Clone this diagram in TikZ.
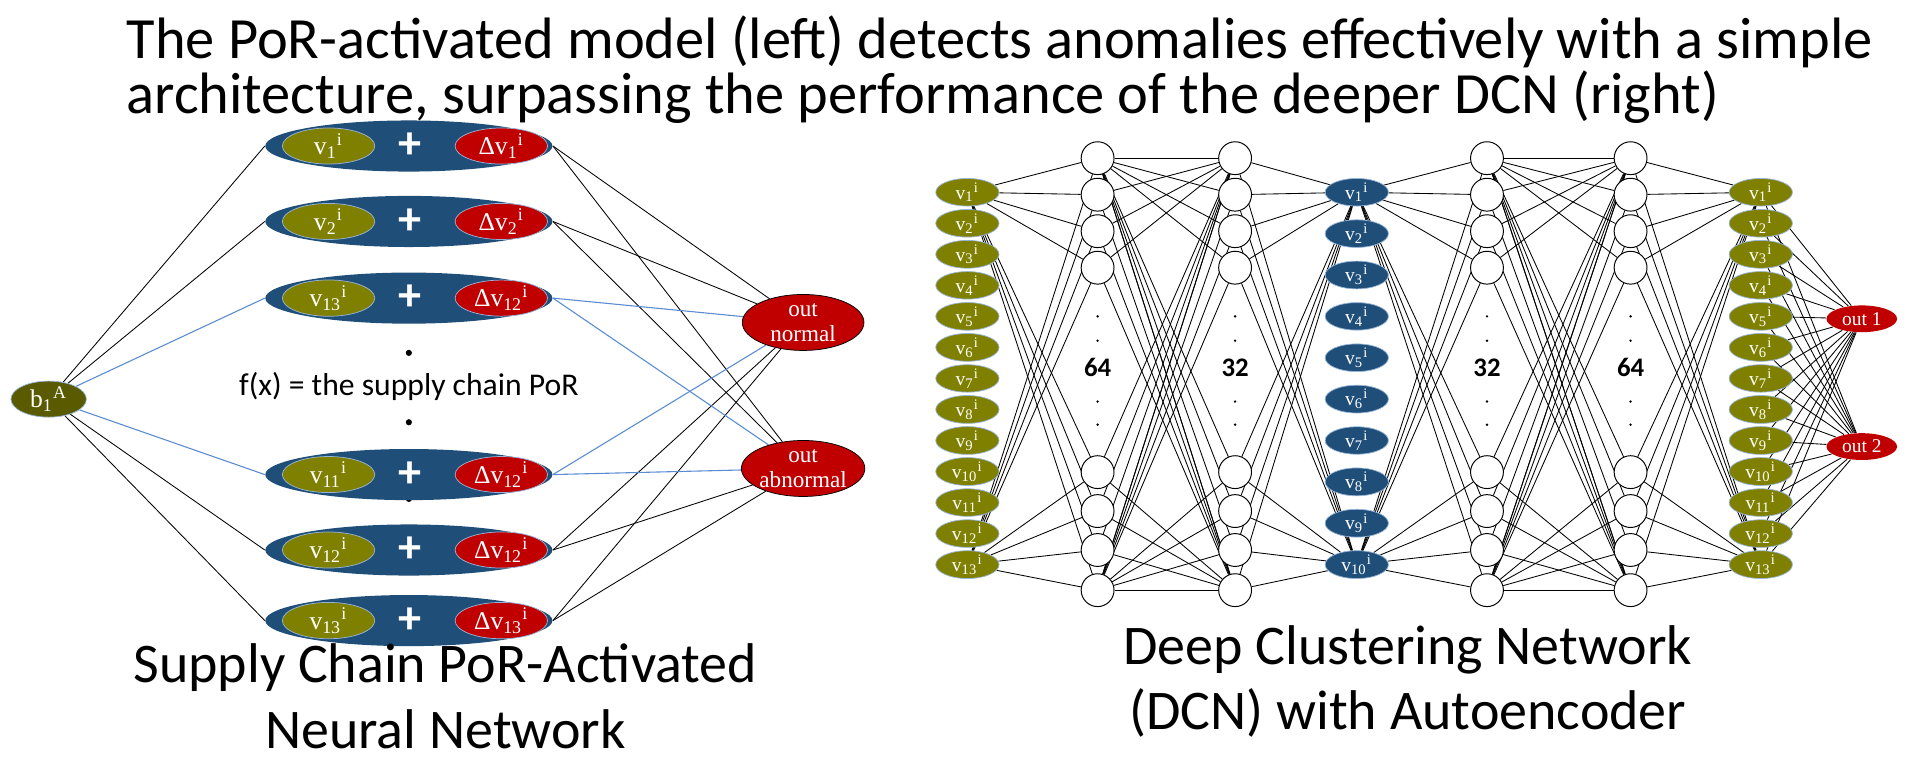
\documentclass[tikz,border=0pt]{standalone}
\usepackage{fontspec}
\setmainfont{Carlito}
\newfontfamily\tms{Liberation Serif}
\usetikzlibrary{shapes.geometric,backgrounds}
\definecolor{rowblue}{RGB}{31,78,121}
\definecolor{olv}{RGB}{128,128,0}
\definecolor{dolv}{RGB}{90,90,0}
\definecolor{dred}{RGB}{192,0,0}
\definecolor{edgeblue}{RGB}{91,140,210}
\definecolor{rimblue}{RGB}{150,180,215}

\begin{document}
\begin{tikzpicture}[x=0.5pt,y=-0.5pt,
    rowell/.style={ellipse,fill=rowblue,minimum width=118pt,minimum height=21pt,inner sep=0pt},
    vin/.style={ellipse,fill=olv,draw=rimblue,line width=0.3pt,minimum width=38pt,minimum height=11.5pt,inner sep=0pt,text=white,font=\tms\fontsize{10.5}{10.5}\selectfont},
    dvin/.style={vin,fill=dred},
    outell/.style={ellipse,fill=dred,draw=black,line width=0.3pt,minimum width=50pt,minimum height=23pt,inner sep=0pt,text=white,align=center,font=\tms\fontsize{9.5}{10}\selectfont},
    sml/.style={ellipse,fill=olv,draw=rimblue,line width=0.3pt,minimum width=26pt,minimum height=10pt,inner sep=0pt,text=white,font=\tms\fontsize{8}{8}\selectfont},
    smb/.style={sml,fill=rowblue},
    hid/.style={circle,draw=black,line width=0.4pt,fill=white,minimum size=13.5pt,inner sep=0pt},
    wire/.style={draw=black,line width=0.35pt},
    bwire/.style={draw=edgeblue,line width=0.45pt},
    dotl/.style={font=\bfseries\fontsize{11}{11}\selectfont}]
\useasboundingbox (0,0) rectangle (1568,625);

% title
\node[anchor=west,font=\fontsize{24}{26}\selectfont] (t1) at (97,34) {The PoR-activated model (left) detects anomalies effectively with a simple};
\node[anchor=west,font=\fontsize{24}{26}\selectfont] (t2) at (97,80) {architecture, surpassing the performance of the deeper DCN (right)};

% ---------- left network ----------
\node[circle,fill=black,inner sep=0.9pt] (dt3) at (336,410) {};
\foreach \y/\a/\b [count=\k] in {120/1/1,182/2/2,245/13/12,390/11/12,452/12/12,510/13/13}{
  \node[rowell] (r\k) at (336,\y) {};
  \node[vin] (rv\k) at (270,\y) {v\textsubscript{\a}\textsuperscript{i}};
  \node[dvin] (rd\k) at (412,\y) {Δv\textsubscript{\b}\textsuperscript{i}};
  \node[text=white,font=\bfseries\fontsize{19}{19}\selectfont] (rp\k) at (337,\y) {+};
}
\node[ellipse,fill=dolv,draw=rimblue,line width=0.3pt,minimum width=31pt,minimum height=12pt,inner sep=0pt,text=white,font=\tms\fontsize{10.5}{10.5}\selectfont] (b1) at (40,328) {b\textsubscript{1}\textsuperscript{A}};
\node[outell] (on) at (660,265) {out\\normal};
\node[outell] (oa) at (660,385) {out\\abnormal};
\node[font=\fontsize{13}{13}\selectfont] (fx) at (336,318) {f(x) = the supply chain PoR};
\node[circle,fill=black,inner sep=0.9pt] (dt1) at (336,290) {};
\node[circle,fill=black,inner sep=0.9pt] (dt2) at (336,347) {};

\begin{scope}[on background layer]
\foreach \k in {1,2,5,6}{
  \draw[wire] (b1) -- (r\k.west);
  \draw[wire] (r\k.east) -- (on);
  \draw[wire] (r\k.east) -- (oa);
}
\foreach \k in {3,4}{
  \draw[bwire] (b1) -- (r\k.west);
  \draw[bwire] (r\k.east) -- (on);
  \draw[bwire] (r\k.east) -- (oa);
}
\end{scope}

% ---------- right network (DCN) ----------
\foreach \i in {1,...,13}{
  \node[sml] (a\i) at (795,{158+(\i-1)*25.5}) {v\textsubscript{\i}\textsuperscript{i}};
  \node[sml] (o\i) at (1447,{158+(\i-1)*25.5}) {v\textsubscript{\i}\textsuperscript{i}};
}
\foreach \i in {1,...,10}
  \node[smb] (m\i) at (1115,{158+(\i-1)*34}) {v\textsubscript{\i}\textsuperscript{i}};
\foreach \L/\x/\n in {b/902/64,c/1015/32,d/1222/32,e/1340/64}{
  \foreach \y [count=\k] in {130,160,190,220,388,420,452,485}
    \node[hid] (\L\k) at (\x,\y) {};
  \node[dotl] (\L n) at (\x,302) {\n};
  \foreach \y in {260,280,330,349}
    \fill (\x,\y) circle (1.1);
}
\node[ellipse,fill=dred,minimum width=29pt,minimum height=11pt,inner sep=0pt,text=white,font=\tms\fontsize{8}{8}\selectfont] (q1) at (1530,262) {out 1};
\node[ellipse,fill=dred,minimum width=29pt,minimum height=11pt,inner sep=0pt,text=white,font=\tms\fontsize{8}{8}\selectfont] (q2) at (1530,367) {out 2};

\begin{scope}[on background layer]
\foreach \s in {1,13}
  \foreach \k in {1,...,8}{
    \draw[wire] (a\s) -- (b\k);
    \draw[wire] (e\k) -- (o\s);
  }
\foreach \s in {1,8}
  \foreach \k in {1,...,8}{
    \draw[wire] (b\s) -- (c\k);
    \draw[wire] (b\k) -- (c\s);
    \draw[wire] (d\s) -- (e\k);
    \draw[wire] (d\k) -- (e\s);
  }
\foreach \s in {1,10}
  \foreach \k in {1,...,8}{
    \draw[wire] (c\k) -- (m\s);
    \draw[wire] (m\s) -- (d\k);
  }
\foreach \i in {1,...,13}{
  \draw[wire] (o\i) -- (q1);
  \draw[wire] (o\i) -- (q2);
}
\end{scope}

% captions
\node[align=center,font=\fontsize{23}{27}\selectfont] (capl) at (366,572) {Supply Chain PoR-Activated\\Neural Network};
\node[align=center,font=\fontsize{23}{27}\selectfont] (capr) at (1157,560) {Deep Clustering Network\\(DCN) with Autoencoder};
\end{tikzpicture}
\end{document}
